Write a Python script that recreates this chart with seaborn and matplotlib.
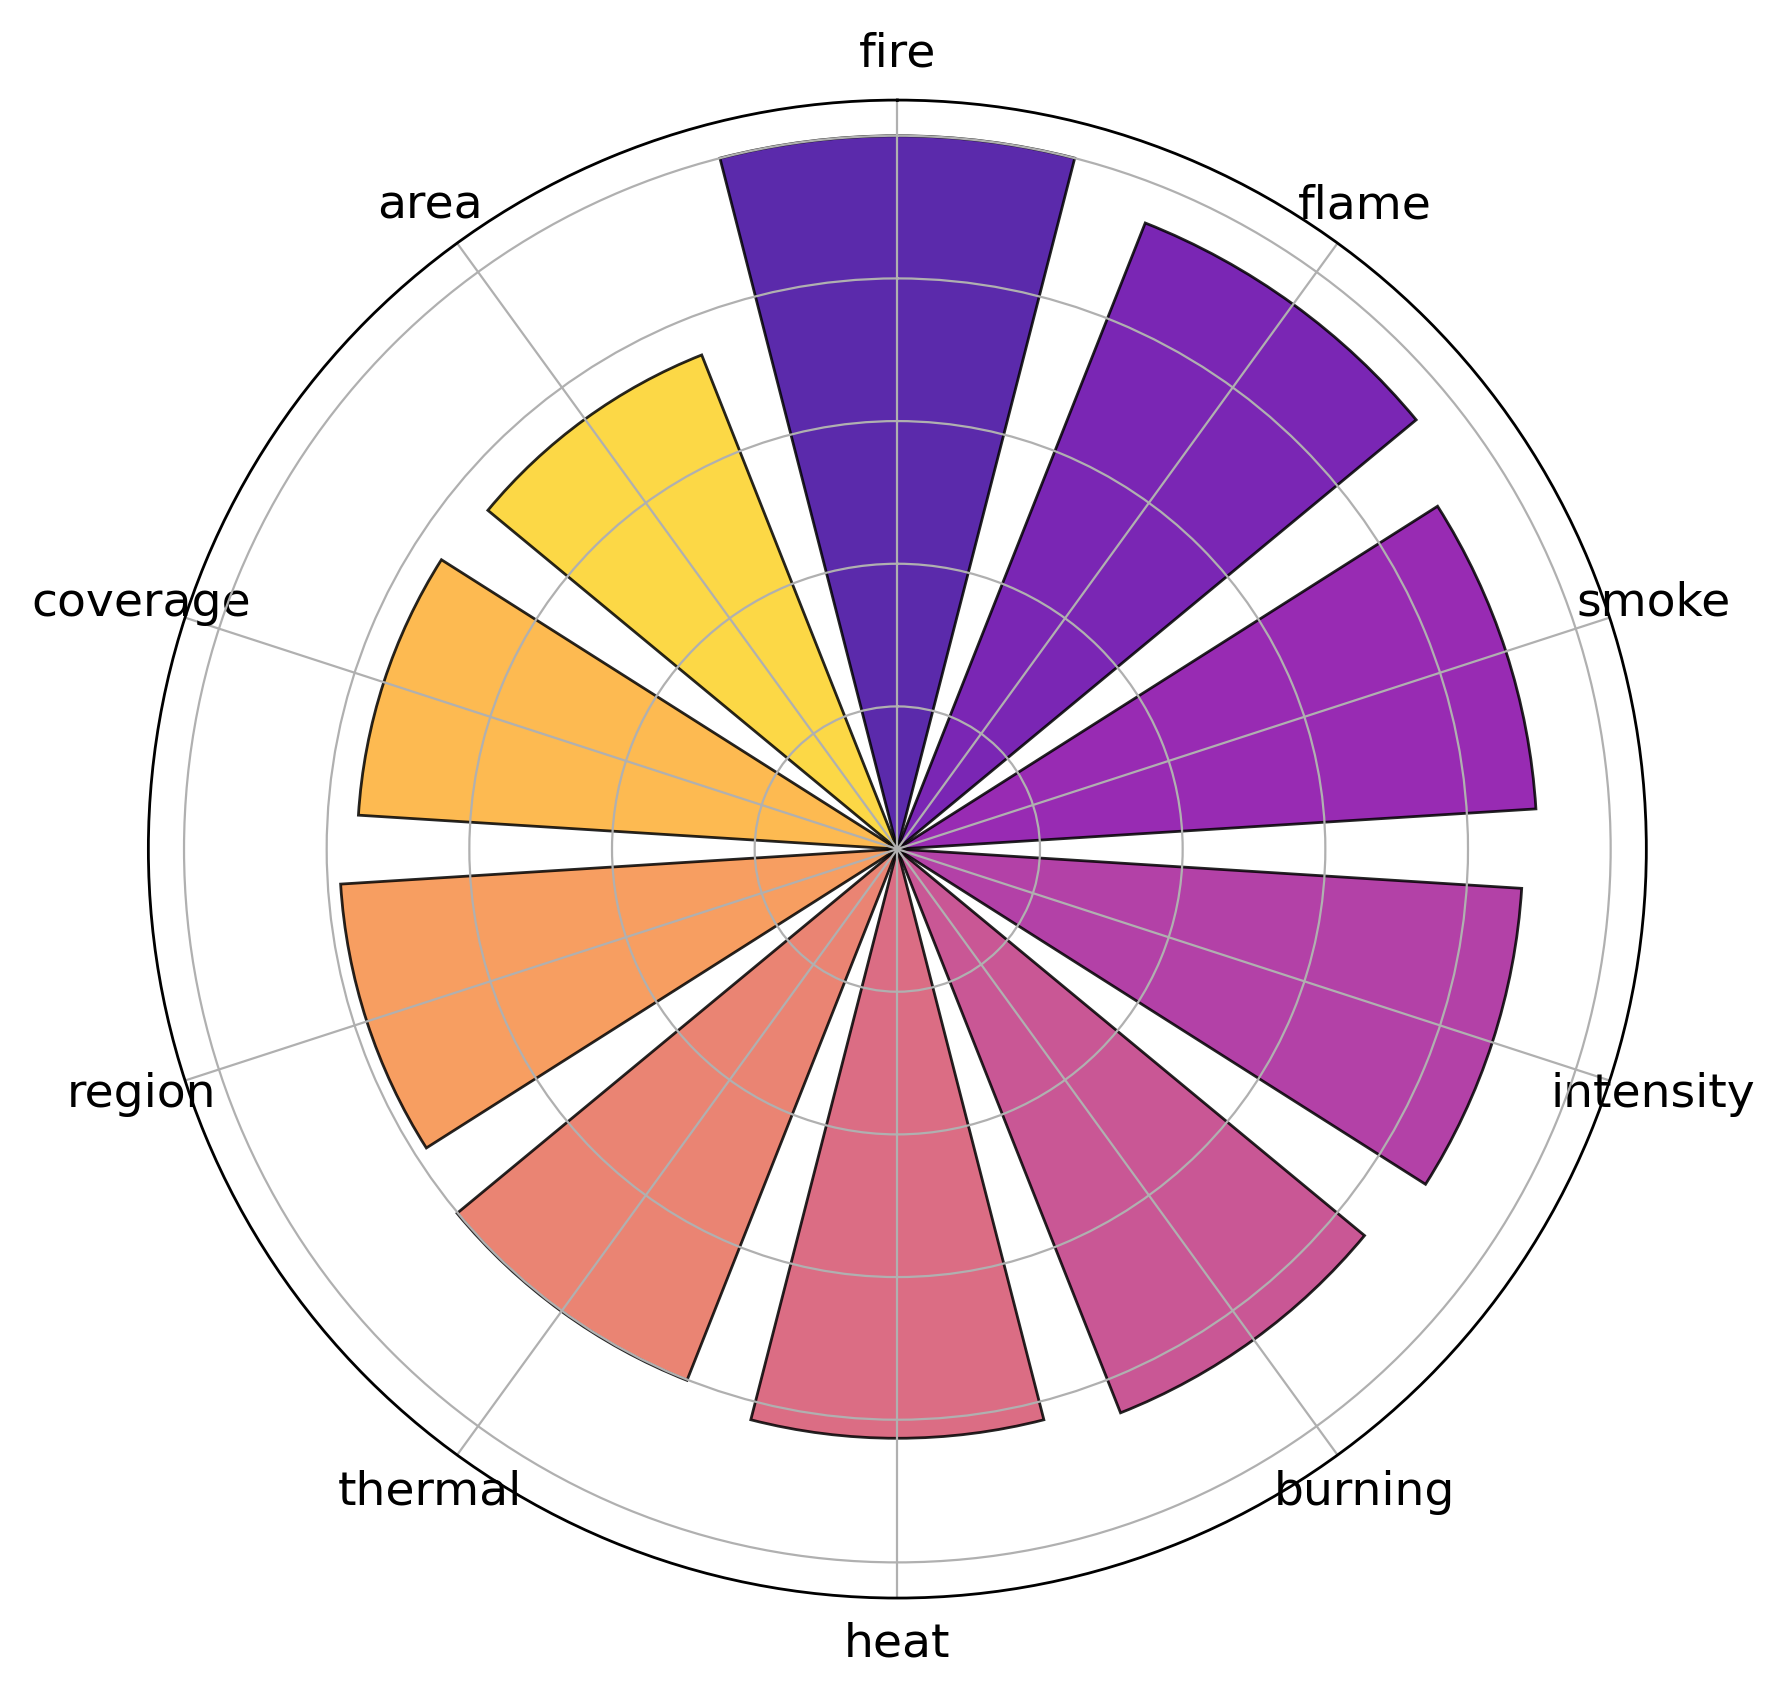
import numpy as np
import matplotlib
matplotlib.use("Agg")
import matplotlib.pyplot as plt
import seaborn as sns

categories = ["fire", "flame", "smoke", "intensity", "burning",
              "heat", "thermal", "region", "coverage", "area"]
values = [100, 94.4, 89.7, 87.7, 85.0, 82.6, 80.1, 78.2, 75.7, 74.5]

n = len(categories)
angles = np.linspace(0, 2 * np.pi, n, endpoint=False)
colors = sns.color_palette("plasma", n)

fig = plt.figure(figsize=(1787 / 200, 1685 / 200), dpi=200)
ax = fig.add_axes([0.083, 0.0516, 0.8383, 0.889], projection="polar")
ax.set_theta_offset(np.pi / 2)
ax.set_theta_direction(-1)

ax.bar(angles, values, width=2 * np.pi / n * 0.8, color=colors,
       edgecolor="black", linewidth=1.0, alpha=0.85)

ax.set_ylim(0, max(values) * 1.05)
ax.set_yticks([20, 40, 60, 80, 100])
ax.set_yticklabels([])
ax.set_xticks(angles)
ax.set_xticklabels(categories, fontsize=17)
ax.tick_params(axis="x", pad=6)
ax.grid(True, color="#b0b0b0", linewidth=0.8)
ax.spines["polar"].set_linewidth(1.0)

fig.savefig("out.png", dpi=200, facecolor="white")
